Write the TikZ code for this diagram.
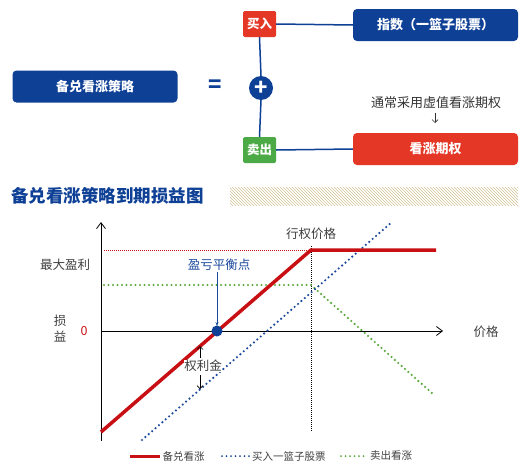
\documentclass[tikz,border=0pt]{standalone}
\usepackage{fontspec}
\setmainfont{Noto Sans CJK SC}
\usetikzlibrary{positioning,arrows.meta,patterns,calc}
\definecolor{navy}{RGB}{14,64,150}
\definecolor{boxred}{RGB}{228,55,38}
\definecolor{boxgreen}{RGB}{76,170,70}
\definecolor{curvered}{RGB}{200,16,20}
\definecolor{stockblue}{RGB}{26,72,156}
\definecolor{callgreen}{RGB}{90,168,60}
\definecolor{hatch}{RGB}{208,196,150}
\tikzset{
  % big strategy boxes
  bigbox/.style  = {rectangle, rounded corners=4pt, fill=navy, text=white,
                    align=center, minimum width=165pt, minimum height=32pt,
                    inner sep=0pt, font=\fontsize{13}{15}\selectfont\bfseries},
  % small buy / sell tags
  tag/.style     = {rectangle, rounded corners=1.5pt, text=white, align=center,
                    minimum width=33pt, minimum height=26pt, inner sep=0pt,
                    font=\fontsize{12.5}{14}\selectfont\bfseries},
  % connectors of the top scheme
  link/.style    = {navy, line width=1.5pt},
  % chart labels
  lbl/.style     = {font=\fontsize{12.5}{14}\selectfont, text=black!75, inner sep=1pt},
  leg/.style     = {font=\fontsize{10.5}{12}\selectfont, text=black!75, inner sep=1pt, right},
  % axes
  axis/.style    = {-{Straight Barb[length=6pt,width=9pt]}, black, line width=0.8pt},
  % payoff lines
  covered/.style = {curvered, line width=3.5pt},
  stock/.style   = {stockblue, line width=2.4pt, dash pattern=on 0pt off 4.5pt, line cap=round},
  shortcall/.style = {callgreen, line width=2.4pt, dash pattern=on 0pt off 4.5pt, line cap=round},
  guide/.style   = {line width=0.9pt, dash pattern=on 1pt off 1pt},
}

\begin{document}
\begin{tikzpicture}[x=1pt,y=-1pt]
  \useasboundingbox[fill=white] (0,0) rectangle (530,471);

  % --- top scheme ---
  \node[bigbox] (strat) at (95,86.5) {备兑看涨策略};
  \node[text=navy, font=\fontsize{22}{22}\selectfont\bfseries] (eq) at (215,86) {=};
  \node[circle, fill=navy, minimum size=24pt, inner sep=0pt, text=white,
        font=\fontsize{22}{22}\selectfont\bfseries] (plus) at (261,88) {+};
  \node[tag, fill=boxred] (buy) at (259.5,24) {买入};
  \node[tag, fill=boxgreen] (sell) at (259.5,150) {卖出};
  \node[bigbox] (idx) at (435.5,25) {指数（一篮子股票）};
  \node[bigbox, fill=boxred] (call) at (435.5,149) {看涨期权};
  \node[font=\fontsize{13}{15}\selectfont, text=black!80] (note) at (436,103) {通常采用虚值看涨期权};
  \coordinate (noteend) at (435,123);

  \draw[link] (buy.east) -- (idx.west);
  \draw[link] (buy.south) -- (plus.north);
  \draw[link] (plus.south) -- (sell.north);
  \draw[link] (sell.east) -- (call.west);
  \draw[-{Straight Barb[length=3pt]}, black!80, line width=0.7pt] (note.south -| noteend) -- (noteend);

  % --- title with hatched band ---
  \node[anchor=west, text=navy, inner sep=0pt,
        font=\fontsize{17.5}{19}\selectfont\bfseries] (title) at (11,196) {备兑看涨策略到期损益图};
  \fill[pattern=north west lines, pattern color=hatch] (230,187) rectangle (518,205);

  % --- payoff chart ---
  \coordinate (O) at (101,331);
  \coordinate (ytop) at (101,222);
  \coordinate (ybot) at (101,441);
  \coordinate (xend) at (443,331);
  \coordinate (K) at (311,250);
  \coordinate (Kbot) at (311,432);
  \coordinate (be) at (217,331);

  \draw[axis] (ybot) -- (ytop);
  \draw[axis] (O) -- (xend);

  \draw[guide, curvered] (104,250) -- (K);
  \draw[guide, black] (311,246) -- (Kbot);
  \draw[shortcall] (104,285) -- (311,285) -- (433,394);
  \draw[stock] (142,440) -- (392,222);
  \draw[covered] (101,432) -- (K) -- (436,250);

  \fill[navy] (be) circle (5.5pt);
  \node[lbl, text=stockblue] (benote) at (219,265) {盈亏平衡点};
  \draw[-{Stealth[length=4pt,width=3pt]}, stockblue, line width=0.6pt] (benote.south -| be) -- ($(be)+(0,-5)$);

  \node[lbl, fill=white, inner sep=0.5pt] (prem) at (203,366) {权利金};
  \draw[-{Straight Barb[length=3pt]}, black, line width=0.7pt] (200,358) -- (200,346);
  \draw[-{Straight Barb[length=3pt]}, black, line width=0.7pt] (200,375) -- (200,389);

  \node[lbl] (strike) at (311,234) {行权价格};
  \node[lbl] (maxp) at (65,265) {最大盈利};
  \node[lbl, align=center, font=\fontsize{12.5}{16}\selectfont] (pl) at (60,329) {损\\益};
  \node[lbl, text=curvered] (zero) at (84,331) {0};
  \node[lbl] (price) at (486,332) {价格};

  % --- legend ---
  \draw[covered, line width=3pt] (130,456) -- (160,456) node[leg] {备兑看涨};
  \draw[stock, line width=2pt] (222,456) -- (250,456) node[leg] {买入一篮子股票};
  \draw[shortcall, line width=2pt] (341,456) -- (368,456) node[leg] {卖出看涨};
\end{tikzpicture}
\end{document}
